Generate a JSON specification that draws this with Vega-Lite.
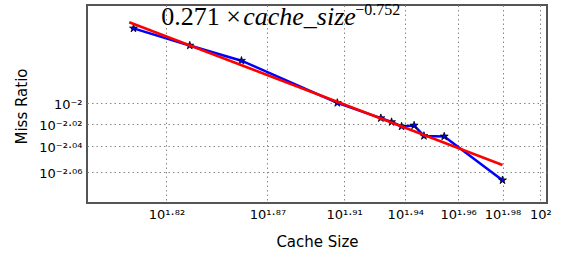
{
  "$schema": "https://vega.github.io/schema/vega-lite/v6.json",
  "autosize": {"type": "none"},
  "padding": {"left": 87, "top": 5, "right": 18, "bottom": 50},
  "width": 460,
  "height": 198,
  "background": "white",
  "datasets": {
    "measured": [
      {"size": 63.7, "ratio": 0.01172},
      {"size": 67.8, "ratio": 0.01130},
      {"size": 71.8, "ratio": 0.01094},
      {"size": 79.85, "ratio": 0.01000},
      {"size": 83.8, "ratio": 0.00968},
      {"size": 84.8, "ratio": 0.00960},
      {"size": 85.75, "ratio": 0.00951},
      {"size": 86.95, "ratio": 0.00953},
      {"size": 87.9, "ratio": 0.00932},
      {"size": 89.9, "ratio": 0.00931},
      {"size": 95.9, "ratio": 0.00848}
    ],
    "fit": [
      {"size": 63.4, "ratio": 0.011874},
      {"size": 95.9, "ratio": 0.008760}
    ]
  },
  "encoding": {
    "x": {
      "field": "size", "type": "quantitative",
      "scale": {"type": "log", "domain": [60.5, 100.75], "nice": false, "zero": false},
      "axis": {
        "title": "Cache Size",
        "values": [66.07, 73.9, 80.45, 86.1, 91.3, 95.9, 100],
        "labelExpr": "datum.value < 70 ? '10¹·⁸²' : datum.value < 77 ? '10¹·⁸⁷' : datum.value < 83 ? '10¹·⁹¹' : datum.value < 89 ? '10¹·⁹⁴' : datum.value < 93 ? '10¹·⁹⁶' : datum.value < 98 ? '10¹·⁹⁸' : '10²'",
        "labelPadding": 5,
        "titleY": 31,
        "titleBaseline": "top"
      }
    },
    "y": {
      "field": "ratio", "type": "quantitative",
      "scale": {"type": "log", "domain": [0.008078, 0.012319], "nice": false, "zero": false},
      "axis": {
        "title": "Miss Ratio",
        "values": [0.01, 0.009569, 0.00913, 0.00863],
        "labelExpr": "datum.value >= 0.0099 ? '10⁻²' : datum.value > 0.0093 ? '10⁻²·⁰²' : datum.value > 0.0089 ? '10⁻²·⁰⁴' : '10⁻²·⁰⁶'",
        "labelPadding": 5,
        "labelOffset": 2,
        "titleX": -66,
        "titleY": 101,
        "titleAngle": -90,
        "titleBaseline": "middle",
        "titleAlign": "center"
      }
    }
  },
  "layer": [
    {
      "data": {"name": "measured"},
      "mark": {"type": "line", "color": "#0000ff", "strokeWidth": 2.5}
    },
    {
      "data": {"name": "measured"},
      "mark": {
        "type": "point",
        "shape": "M0,-1L0.2245,-0.309L0.951,-0.309L0.363,0.118L0.588,0.809L0,0.382L-0.588,0.809L-0.363,0.118L-0.951,-0.309L-0.2245,-0.309Z",
        "filled": true,
        "fill": "#0000ff",
        "stroke": "#000000",
        "strokeWidth": 0.8,
        "size": 70,
        "opacity": 1
      }
    },
    {
      "data": {"name": "fit"},
      "mark": {"type": "line", "color": "#ff0000", "strokeWidth": 2.5}
    },
    {
      "data": {"name": "fit"},
      "transform": [{"filter": "datum.size < 70"}],
      "mark": {"type": "text", "align": "left", "baseline": "alphabetic", "font": "Liberation Serif", "fontSize": 26, "color": "black", "dx": 32, "dy": 3},
      "encoding": {"text": {"value": "0.271 ×"}}
    },
    {
      "data": {"name": "fit"},
      "transform": [{"filter": "datum.size < 70"}],
      "mark": {"type": "text", "align": "left", "baseline": "alphabetic", "font": "Liberation Serif", "fontStyle": "italic", "fontSize": 26, "color": "black", "dx": 114, "dy": 3},
      "encoding": {"text": {"value": "cache_size"}}
    },
    {
      "data": {"name": "fit"},
      "transform": [{"filter": "datum.size < 70"}],
      "mark": {"type": "text", "align": "left", "baseline": "alphabetic", "font": "Liberation Serif", "fontSize": 16, "color": "black", "dx": 226, "dy": -7},
      "encoding": {"text": {"value": "−0.752"}}
    }
  ],
  "config": {
    "view": {"stroke": "#555555", "strokeWidth": 2},
    "axis": {
      "domain": false,
      "ticks": false,
      "grid": true,
      "gridColor": "#888888",
      "gridDash": [1.5, 3],
      "gridWidth": 1,
      "gridOpacity": 1,
      "labelFont": "DejaVu Sans",
      "labelFontSize": 13,
      "labelColor": "#000000",
      "titleFont": "DejaVu Sans",
      "titleFontSize": 15,
      "titleFontWeight": "normal",
      "titleColor": "#000000"
    }
  }
}
